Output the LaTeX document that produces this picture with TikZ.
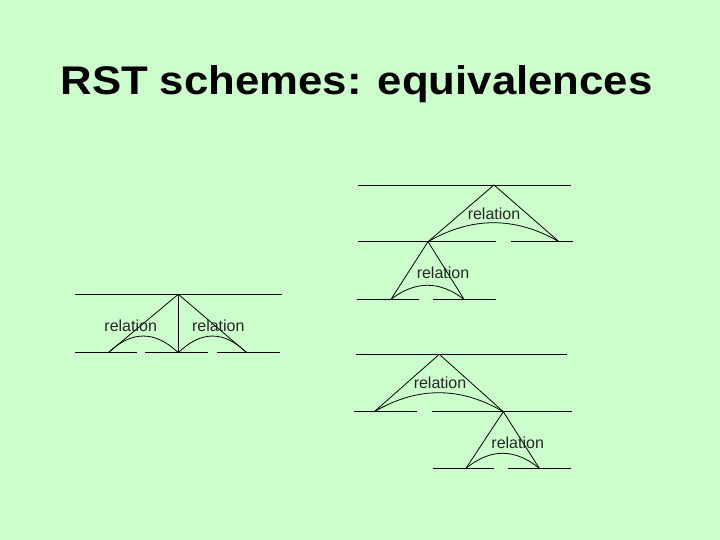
\documentclass[tikz,border=0pt]{standalone}
\usepackage{fontspec}
\setmainfont{Liberation Sans}
\definecolor{bg}{RGB}{204,255,204}
\begin{document}
\begin{tikzpicture}[x=1pt,y=-1pt,
  ln/.style={black,line width=0.8pt},
  rel/.style={font=\fontsize{16}{18}\selectfont,text=black!85,anchor=base,inner sep=0pt},
  arcq/.style={black,line width=0.8pt}]
\fill[bg] (0,0) rectangle (720,540);
\useasboundingbox (0,0) rectangle (720,540);
\node[anchor=base,inner sep=0pt,font=\fontsize{40}{44}\selectfont\bfseries] (title) at (356.5,95) {\scalebox{1.093}[1]{RST schemes: equivalences}};

% ---------- left scheme ----------
\coordinate (LA) at (178.3,294.3);
\coordinate (L1) at (108.3,352.7);
\coordinate (L2) at (178.3,352.7);
\coordinate (L3) at (246.7,352.7);
\draw[ln] (75,294.3) -- (281.7,294.3);
\draw[ln] (75,352.7) -- (136.7,352.7);
\draw[ln] (145,352.7) -- (208.3,352.7);
\draw[ln] (216.7,352.7) -- (280,352.7);
\draw[ln] (LA) -- (L1);
\draw[ln] (LA) -- (L2);
\draw[ln] (LA) -- (L3);
\draw[arcq] (L1) .. controls (131.6,330.5) and (155,330.5) .. (L2);
\draw[arcq] (L2) .. controls (201.1,330.5) and (223.9,330.5) .. (L3);
\node[rel] (rl1) at (130.7,331) {relation};
\node[rel] (rl2) at (218.3,331) {relation};

% ---------- top right scheme ----------
\coordinate (TA) at (494,185);
\coordinate (TB) at (428,241.7);
\coordinate (TC) at (559,241.7);
\coordinate (TD) at (391,299.3);
\coordinate (TE) at (464,299.3);
\draw[ln] (358,185) -- (571,185);
\draw[ln] (358,241.7) -- (495.7,241.7);
\draw[ln] (511,241.7) -- (572.7,241.7);
\draw[ln] (357,299.3) -- (419,299.3);
\draw[ln] (433,299.3) -- (496,299.3);
\draw[ln] (TA) -- (TB);
\draw[ln] (TA) -- (TC);
\draw[ln] (TB) -- (TD);
\draw[ln] (TB) -- (TE);
\draw[arcq] (TB) .. controls (471.7,216.4) and (515.3,216.4) .. (TC);
\draw[arcq] (TD) .. controls (415.3,280.6) and (439.7,280.6) .. (TE);
\node[rel] (rt1) at (494,219.3) {relation};
\node[rel] (rt2) at (443,278) {relation};

% ---------- bottom right scheme ----------
\coordinate (BA) at (439.3,354.3);
\coordinate (BB) at (374.3,411.7);
\coordinate (BC) at (503.3,411.7);
\coordinate (BD) at (466,468.3);
\coordinate (BE) at (539.3,468.3);
\draw[ln] (356,354.3) -- (567.3,354.3);
\draw[ln] (354,411.7) -- (416.7,411.7);
\draw[ln] (431.7,411.7) -- (571.7,411.7);
\draw[ln] (432.7,468.3) -- (494.3,468.3);
\draw[ln] (508.3,468.3) -- (570.7,468.3);
\draw[ln] (BA) -- (BB);
\draw[ln] (BA) -- (BC);
\draw[ln] (BC) -- (BD);
\draw[ln] (BC) -- (BE);
\draw[arcq] (BB) .. controls (417.3,386.4) and (460.3,386.4) .. (BC);
\draw[arcq] (BD) .. controls (490.4,448.3) and (514.9,448.3) .. (BE);
\node[rel] (rb1) at (440,388.5) {relation};
\node[rel] (rb2) at (517.7,448) {relation};
\end{tikzpicture}
\end{document}
